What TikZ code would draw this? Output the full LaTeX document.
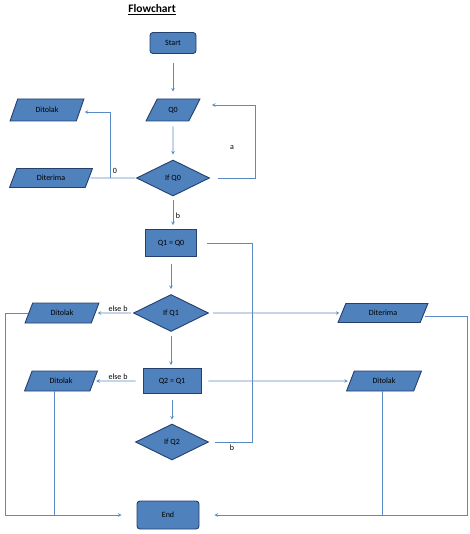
\documentclass[tikz,border=0pt]{standalone}
\usepackage{fontspec}
\setmainfont{Carlito}
\usetikzlibrary{shapes.geometric}
\definecolor{boxfill}{HTML}{4F81BD}
\definecolor{boxedge}{HTML}{24406E}
\definecolor{wireblue}{HTML}{5A8AC6}
\begin{document}
\begin{tikzpicture}[x=1pt, y=-1pt, font=\fontsize{8}{9}\selectfont]
        \tikzstyle{terminal}=[draw=boxedge, line width=0.9pt, fill=boxfill, rectangle, rounded corners=3pt, inner sep=0pt];
        \tikzstyle{process}=[draw=boxedge, line width=0.9pt, fill=boxfill, rectangle, inner sep=0pt];
        \tikzstyle{io}=[draw=boxedge, line width=0.9pt, fill=boxfill, trapezium, trapezium left angle=62, trapezium right angle=118, trapezium stretches=true, inner sep=0pt];
        \tikzstyle{decision}=[draw=boxedge, line width=0.9pt, fill=boxfill, diamond, inner sep=0pt];
        \tikzstyle{wire}=[draw=wireblue, line width=0.6pt];
        \tikzstyle{link}=[wire, ->, >=stealth];
        \useasboundingbox (0,0) rectangle (469,534);

        \node[font=\fontsize{11.5}{13}\selectfont\bfseries] (title) at (152,10) {\underline{Flowchart}};

        % main column
        \node[terminal, minimum width=46pt, minimum height=21pt] (start) at (173,43) {Start};
        \node[io, minimum width=54pt, minimum height=22pt] (q0) at (173,110) {Q0};
        \node[decision, minimum width=73pt, minimum height=36pt] (ifq0) at (173,178) {If Q0};
        \node[process, minimum width=51pt, minimum height=27pt] (q1) at (171,243) {Q1 = Q0};
        \node[decision, minimum width=75pt, minimum height=37pt] (ifq1) at (171,313) {If Q1};
        \node[process, minimum width=58pt, minimum height=25pt] (q2) at (172,381) {Q2 = Q1};
        \node[decision, minimum width=73pt, minimum height=36pt] (ifq2) at (172,442) {If Q2};
        \node[terminal, minimum width=62pt, minimum height=28pt] (end) at (168,515) {End};

        % side outputs
        \node[io, minimum width=74pt, minimum height=22pt] (ditolakA) at (47,110) {Ditolak};
        \node[io, minimum width=83pt, minimum height=19pt] (diterimaA) at (51,178) {Diterima};
        \node[io, minimum width=74pt, minimum height=20pt] (ditolakB) at (62,313) {Ditolak};
        \node[io, minimum width=90pt, minimum height=19pt] (diterimaB) at (383,313) {Diterima};
        \node[io, minimum width=73pt, minimum height=20pt] (ditolakC) at (61,381) {Ditolak};
        \node[io, minimum width=75pt, minimum height=20pt] (ditolakD) at (384,381) {Ditolak};

        % bends
        \coordinate (bendA) at (255,178);
        \coordinate (joinA) at (110,178);
        \coordinate (bendB) at (252,442);
        \coordinate (leftEnd) at (5,515);
        \coordinate (rightEnd) at (467,515);

        \draw[link, shorten <=9pt, shorten >=7pt] (start) -- (q0);
        \draw[link, shorten <=5pt, shorten >=5pt] (q0) -- (ifq0);
        \draw[link, shorten <=4pt, shorten >=4pt] (ifq0) -- (ifq0 |- q1.north);
        \draw[link, shorten <=7pt, shorten >=5pt] (q1) -- (ifq1);
        \draw[link, shorten <=4pt, shorten >=3pt] (ifq1) -- (ifq1 |- q2.north);
        \draw[link, shorten <=6pt, shorten >=4pt] (q2) -- (ifq2);

        \draw[link, shorten <=8pt, shorten >=17pt] (ifq0) -- (bendA) |- ([yshift=5pt]q0.east);
        \draw[wire, shorten <=1pt, shorten >=1pt] (ifq0) -- (diterimaA);
        \draw[link, shorten >=4pt] (joinA) |- ([yshift=-2pt]ditolakA.east);

        \draw[wire, shorten <=6pt, shorten >=10pt] (ifq2) -- (bendB) |- (q1);

        \draw[link, shorten <=2pt, shorten >=2pt] (ifq1) -- (ditolakB);
        \draw[link, shorten <=4pt, shorten >=2pt] (ifq1) -- (diterimaB);
        \draw[link, shorten <=7pt, shorten >=2pt] (q2) -- (ditolakC);
        \draw[link, shorten <=7pt, shorten >=2pt] (q2) -- (ditolakD);

        \draw[link, shorten >=15pt] ([yshift=-3pt]diterimaB.east) -| (rightEnd) -- (end);
        \draw[link, shorten >=15pt] (ditolakB.west) -| (leftEnd) -- (end);
        \draw[wire] ([xshift=-7pt]ditolakC.south) -- ([xshift=-7pt]ditolakC.south |- leftEnd);
        \draw[wire] ([xshift=-2pt]ditolakD.south) -- ([xshift=-2pt]ditolakD.south |- rightEnd);

        % branch labels
        \node (labA) at (232,148) {a};
        \node (lab0) at (115,171) {0};
        \node (labB) at (178,216) {b};
        \node (labElseB) at (118,309) {else b};
        \node (labElseC) at (118,377) {else b};
        \node (labBb) at (232,448) {b};
\end{tikzpicture}
\end{document}
